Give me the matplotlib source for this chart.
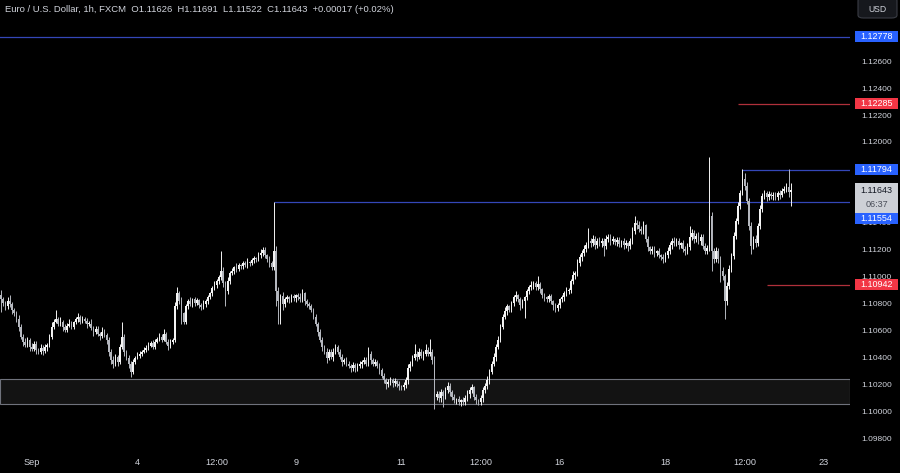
import numpy as np
import matplotlib.pyplot as plt
from matplotlib.patches import Rectangle, FancyBboxPatch
from matplotlib.transforms import blended_transform_factory

plt.rcParams["font.family"] = ["Liberation Sans", "DejaVu Sans"]

# EUR/USD 1h, FXCM -- closes, open of each bar = previous close
first_open = 1.10870
closes = [
    1.10834, 1.10804, 1.10782, 1.10819, 1.10797, 1.10759, 1.10730, 1.10685, 1.10633, 1.10558,
    1.10521, 1.10499, 1.10536, 1.10484, 1.10469, 1.10506, 1.10461, 1.10447, 1.10476, 1.10454,
    1.10484, 1.10499, 1.10558, 1.10633, 1.10670, 1.10685, 1.10655, 1.10670, 1.10633, 1.10610,
    1.10640, 1.10655, 1.10633, 1.10663, 1.10685, 1.10700, 1.10670, 1.10692, 1.10677, 1.10655,
    1.10655, 1.10625, 1.10596, 1.10618, 1.10581, 1.10566, 1.10596, 1.10573, 1.10536, 1.10447,
    1.10387, 1.10357, 1.10409, 1.10372, 1.10484, 1.10558, 1.10447, 1.10402, 1.10357, 1.10298,
    1.10372, 1.10402, 1.10417, 1.10432, 1.10447, 1.10461, 1.10476, 1.10491, 1.10514, 1.10484,
    1.10521, 1.10543, 1.10558, 1.10536, 1.10581, 1.10521, 1.10491, 1.10521, 1.10536, 1.10782,
    1.10879, 1.10819, 1.10730, 1.10670, 1.10782, 1.10819, 1.10797, 1.10834, 1.10804, 1.10826,
    1.10789, 1.10774, 1.10797, 1.10819, 1.10849, 1.10879, 1.10916, 1.10938, 1.10968, 1.10998,
    1.11043, 1.10953, 1.10894, 1.10968, 1.11028, 1.11043, 1.11072, 1.11057, 1.11087, 1.11080,
    1.11102, 1.11087, 1.11110, 1.11102, 1.11124, 1.11139, 1.11132, 1.11162, 1.11177, 1.11199,
    1.11162, 1.11132, 1.11102, 1.11072, 1.11192, 1.10894, 1.10819, 1.10856, 1.10797, 1.10834,
    1.10849, 1.10834, 1.10856, 1.10841, 1.10864, 1.10849, 1.10834, 1.10879, 1.10819, 1.10797,
    1.10782, 1.10759, 1.10707, 1.10655, 1.10596, 1.10536, 1.10484, 1.10447, 1.10402, 1.10447,
    1.10409, 1.10447, 1.10484, 1.10447, 1.10409, 1.10372, 1.10387, 1.10357, 1.10342, 1.10327,
    1.10350, 1.10327, 1.10342, 1.10357, 1.10372, 1.10387, 1.10357, 1.10432, 1.10387, 1.10357,
    1.10372, 1.10342, 1.10312, 1.10268, 1.10238, 1.10208, 1.10223, 1.10238, 1.10216, 1.10230,
    1.10208, 1.10193, 1.10186, 1.10201, 1.10238, 1.10327, 1.10357, 1.10402, 1.10432, 1.10409,
    1.10447, 1.10417, 1.10432, 1.10461, 1.10432, 1.10447, 1.10387, 1.10111, 1.10134, 1.10104,
    1.10149, 1.10119, 1.10163, 1.10193, 1.10149, 1.10111, 1.10089, 1.10096, 1.10074, 1.10089,
    1.10074, 1.10104, 1.10134, 1.10163, 1.10186, 1.10111, 1.10089, 1.10074, 1.10104, 1.10163,
    1.10193, 1.10238, 1.10298, 1.10357, 1.10409, 1.10484, 1.10536, 1.10633, 1.10707, 1.10745,
    1.10782, 1.10759, 1.10804, 1.10849, 1.10864, 1.10834, 1.10789, 1.10819, 1.10849, 1.10894,
    1.10923, 1.10938, 1.10953, 1.10923, 1.10946, 1.10908, 1.10864, 1.10849, 1.10834, 1.10856,
    1.10819, 1.10789, 1.10767, 1.10789, 1.10834, 1.10849, 1.10879, 1.10894, 1.10901, 1.10968,
    1.11013, 1.11028, 1.11102, 1.11147, 1.11177, 1.11206, 1.11236, 1.11266, 1.11251, 1.11281,
    1.11236, 1.11266, 1.11251, 1.11266, 1.11229, 1.11281, 1.11296, 1.11266, 1.11281, 1.11259,
    1.11273, 1.11244, 1.11266, 1.11236, 1.11251, 1.11229, 1.11266, 1.11341, 1.11400, 1.11385,
    1.11355, 1.11341, 1.11385, 1.11281, 1.11221, 1.11192, 1.11206, 1.11177, 1.11192, 1.11162,
    1.11147, 1.11132, 1.11162, 1.11192, 1.11236, 1.11266, 1.11251, 1.11266, 1.11236, 1.11251,
    1.11206, 1.11192, 1.11221, 1.11296, 1.11326, 1.11281, 1.11303, 1.11266, 1.11296, 1.11229,
    1.11192, 1.11214, 1.11452, 1.11192, 1.11132, 1.11192, 1.11132, 1.11043, 1.11005, 1.10819,
    1.10931, 1.11057, 1.11154, 1.11303, 1.11415, 1.11527, 1.11624, 1.11728, 1.11676, 1.11564,
    1.11378, 1.11229, 1.11281, 1.11251, 1.11378, 1.11504, 1.11601, 1.11624, 1.11594, 1.11616,
    1.11601, 1.11609, 1.11594, 1.11624, 1.11609, 1.11639, 1.11653, 1.11668, 1.11626, 1.11643,
]
# wick lengths in pips above / below the body
upper_pips = [
    3, 2, 2, 3, 5, 2, 1, 2, 3, 2, 2, 3, 2, 1, 3, 2, 2, 1, 3, 2,
    2, 1, 2, 3, 2, 7, 2, 3, 1, 2, 2, 3, 2, 1, 2, 3, 2, 2, 1, 2,
    2, 3, 1, 2, 2, 1, 3, 2, 1, 2, 2, 3, 2, 1, 2, 11, 2, 1, 2, 2,
    2, 1, 3, 2, 1, 2, 2, 3, 1, 2, 2, 1, 3, 2, 3, 1, 2, 2, 1, 3,
    5, 2, 3, 1, 2, 2, 3, 1, 2, 2, 1, 2, 3, 2, 2, 1, 2, 3, 2, 2,
    15, 3, 2, 3, 2, 2, 1, 3, 2, 1, 2, 2, 3, 1, 2, 2, 1, 2, 3, 2,
    2, 1, 2, 2, 36, 4, 3, 2, 3, 2, 2, 1, 2, 2, 1, 2, 3, 3, 1, 2,
    2, 2, 1, 2, 1, 2, 2, 1, 3, 2, 2, 3, 2, 1, 2, 2, 1, 2, 2, 1,
    2, 1, 2, 2, 1, 2, 2, 5, 2, 1, 2, 1, 2, 1, 2, 1, 2, 2, 1, 2,
    1, 2, 1, 2, 2, 3, 2, 2, 7, 2, 3, 2, 2, 4, 2, 9, 2, 3, 2, 2,
    2, 1, 2, 3, 2, 1, 2, 1, 2, 1, 2, 2, 3, 2, 2, 1, 2, 1, 2, 2,
    2, 3, 2, 2, 3, 2, 3, 2, 2, 3, 2, 1, 2, 2, 3, 1, 2, 2, 1, 2,
    2, 3, 2, 2, 6, 2, 1, 2, 1, 2, 2, 1, 2, 2, 1, 2, 2, 3, 2, 2,
    3, 2, 3, 2, 2, 3, 2, 10, 2, 3, 2, 2, 3, 2, 2, 3, 2, 2, 2, 1,
    2, 2, 1, 2, 2, 1, 2, 3, 5, 2, 3, 2, 3, 1, 2, 1, 2, 2, 1, 2,
    1, 2, 2, 3, 2, 2, 3, 2, 2, 1, 2, 2, 3, 8, 3, 2, 2, 3, 2, 2,
    2, 2, 44, 3, 2, 3, 2, 2, 3, 2, 3, 3, 2, 3, 2, 3, 2, 7, 4, 3,
    2, 3, 2, 3, 2, 3, 2, 2, 1, 2, 1, 2, 2, 1, 2, 2, 2, 3, 13, 5,
]
lower_pips = [
    9, 2, 3, 2, 2, 3, 2, 2, 3, 2, 3, 2, 2, 3, 2, 2, 3, 2, 2, 3,
    2, 3, 2, 2, 2, 1, 2, 2, 3, 2, 2, 1, 2, 2, 1, 2, 2, 1, 2, 3,
    2, 2, 3, 2, 2, 3, 2, 2, 3, 3, 3, 3, 2, 3, 2, 2, 3, 2, 3, 4,
    2, 2, 1, 2, 2, 1, 2, 2, 1, 2, 2, 1, 2, 2, 1, 2, 3, 2, 2, 2,
    2, 2, 8, 2, 2, 2, 1, 2, 2, 1, 2, 2, 1, 2, 2, 1, 2, 1, 2, 2,
    2, 3, 11, 2, 2, 1, 2, 2, 1, 2, 2, 1, 2, 2, 1, 2, 2, 1, 2, 2,
    2, 2, 3, 2, 2, 11, 17, 17, 4, 2, 2, 3, 2, 2, 3, 2, 2, 2, 3, 2,
    2, 2, 2, 2, 3, 2, 3, 2, 4, 2, 2, 3, 2, 2, 2, 3, 2, 2, 2, 3,
    2, 3, 2, 2, 3, 2, 2, 2, 3, 2, 2, 2, 3, 2, 2, 4, 2, 2, 3, 2,
    2, 3, 2, 2, 2, 3, 2, 2, 2, 3, 2, 2, 3, 2, 2, 2, 3, 9, 2, 3,
    3, 8, 2, 2, 3, 2, 2, 3, 2, 3, 2, 2, 2, 3, 2, 2, 3, 2, 2, 3,
    2, 2, 3, 2, 2, 3, 2, 2, 2, 2, 3, 2, 2, 2, 3, 2, 3, 2, 12, 2,
    2, 2, 3, 2, 2, 3, 2, 3, 2, 2, 2, 3, 3, 2, 2, 2, 3, 2, 2, 2,
    2, 3, 2, 2, 3, 2, 2, 2, 3, 2, 3, 2, 2, 3, 7, 2, 2, 3, 2, 2,
    3, 2, 2, 3, 2, 4, 2, 2, 2, 3, 2, 2, 2, 2, 3, 2, 2, 3, 2, 2,
    2, 3, 2, 2, 2, 3, 2, 2, 3, 2, 2, 3, 2, 2, 2, 3, 2, 2, 3, 2,
    2, 2, 2, 15, 3, 2, 3, 8, 3, 13, 3, 2, 2, 2, 2, 2, 2, 2, 3, 2,
    3, 6, 2, 3, 2, 2, 2, 2, 3, 2, 2, 3, 2, 2, 3, 2, 2, 2, 3, 10,
]

time_ticks = [14, 62, 98, 134, 182, 218, 254, 302, 338, 374]
time_labels = ["Sep", "4", "12:00", "9", "11", "12:00", "16", "18", "12:00", "23"]
# scale labels that are not hidden behind a price tag
price_ticks = [1.098, 1.100, 1.102, 1.104, 1.106, 1.108, 1.110, 1.112,
               1.114, 1.120, 1.122, 1.124, 1.126]

# horizontal levels: price, colour, first bar of the line (None = whole chart)
level_prices = [1.12778, 1.12285, 1.11794, 1.11554, 1.10942]
level_kinds = ["blue", "red", "blue", "blue", "red"]
level_start = [None, 335, 337, 124, 348]
zone_low, zone_high = 1.10060, 1.10245

last_price = 1.11643
countdown = "06:37"
title = ("Euro / U.S. Dollar, 1h, FXCM  O1.11626  H1.11691  L1.11522  "
         "C1.11643  +0.00017 (+0.02%)")

assert len(closes) == len(upper_pips) == len(lower_pips)

BG = "#000000"
TXT = "#d1d4dc"
COL = {"blue": "#2962ff", "red": "#f23645"}
LINE = {"blue": "#3447b8", "red": "#b0303b"}

c = np.array(closes)
o = np.concatenate([[first_open], c[:-1]])
hi = np.maximum(o, c) + np.array(upper_pips) * 1e-4
lo = np.minimum(o, c) - np.array(lower_pips) * 1e-4
x = np.arange(len(c))
up = c >= o
colors = np.where(up, "#f4f4f4", "#b4b7be")

fig = plt.figure(figsize=(9, 4.73), dpi=100, facecolor=BG)
ax = fig.add_axes([0, 25 / 473, 850 / 900, 448 / 473])
ax.set_facecolor(BG)
for s in ax.spines.values():
    s.set_visible(False)

ax.set_xlim(-0.45, 385.9)
ax.set_ylim(1.09733, 1.13052)

# support zone
ax.axhspan(zone_low, zone_high, facecolor="#131313", edgecolor="#6f727c", lw=0.8, zorder=1)

for p, k, st in zip(level_prices, level_kinds, level_start):
    x0 = -1 if st is None else st
    ax.hlines(p, x0, 400, color=LINE[k], lw=0.9, zorder=2)

ax.vlines(x, lo, hi, color=colors, lw=0.7, zorder=3)
ax.bar(x, np.maximum(np.abs(c - o), 0.00002), bottom=np.minimum(o, c),
       width=0.75, color=colors, linewidth=0, zorder=4)

ax.yaxis.tick_right()
ax.set_yticks(price_ticks)
ax.set_yticklabels(["%.5f" % p for p in price_ticks])
ax.tick_params(axis="y", length=0, pad=8, labelsize=6, labelcolor=TXT)
ax.set_xticks(time_ticks)
ax.set_xticklabels(time_labels)
ax.tick_params(axis="x", length=0, pad=7, labelsize=6.6, labelcolor=TXT)

fig.text(5 / 900, 1 - 9 / 473, title, va="center", ha="left", fontsize=6.8, color=TXT)

# USD box
fig.add_artist(FancyBboxPatch((858 / 900, 1 - 18 / 473), 39 / 900, 20 / 473,
                              boxstyle="round,pad=0,rounding_size=0.006",
                              transform=fig.transFigure, facecolor="#16181d",
                              edgecolor="#3a3d45", lw=0.8))
fig.text(877.5 / 900, 1 - 9 / 473, "USD", ha="center", va="center", fontsize=6.2, color=TXT)

# price tags on the scale
tr = blended_transform_factory(fig.transFigure, ax.transData)
px = (ax.get_ylim()[1] - ax.get_ylim()[0]) / 448.0
tag_h = 11 * px
box_x0, box_w = 855 / 900, 43 / 900

last_top = last_price + 7.5 * px
last_bot = last_price - 22.5 * px
fig.add_artist(Rectangle((box_x0, last_bot), box_w, last_top - last_bot, transform=tr,
                         facecolor="#cdd0d6", edgecolor="none", zorder=5))
fig.text(876.5 / 900, last_price, "%.5f" % last_price, transform=tr, ha="center",
         va="center", fontsize=6.5, color="#131722", zorder=6)
fig.text(876.5 / 900, last_price - 14 * px, countdown, transform=tr, ha="center",
         va="center", fontsize=6.5, color="#4a4e59", zorder=6)

for p, k in zip(level_prices, level_kinds):
    yc = p
    if yc + tag_h / 2 > last_bot and yc - tag_h / 2 < last_top:
        yc = last_bot - tag_h / 2
    fig.add_artist(Rectangle((box_x0, yc - tag_h / 2), box_w, tag_h, transform=tr,
                             facecolor=COL[k], edgecolor="none", zorder=5))
    fig.text(876.5 / 900, yc, "%.5f" % p, transform=tr, ha="center", va="center",
             fontsize=6.5, color="white", zorder=6)

fig.savefig("out.png", dpi=100, facecolor=BG)
